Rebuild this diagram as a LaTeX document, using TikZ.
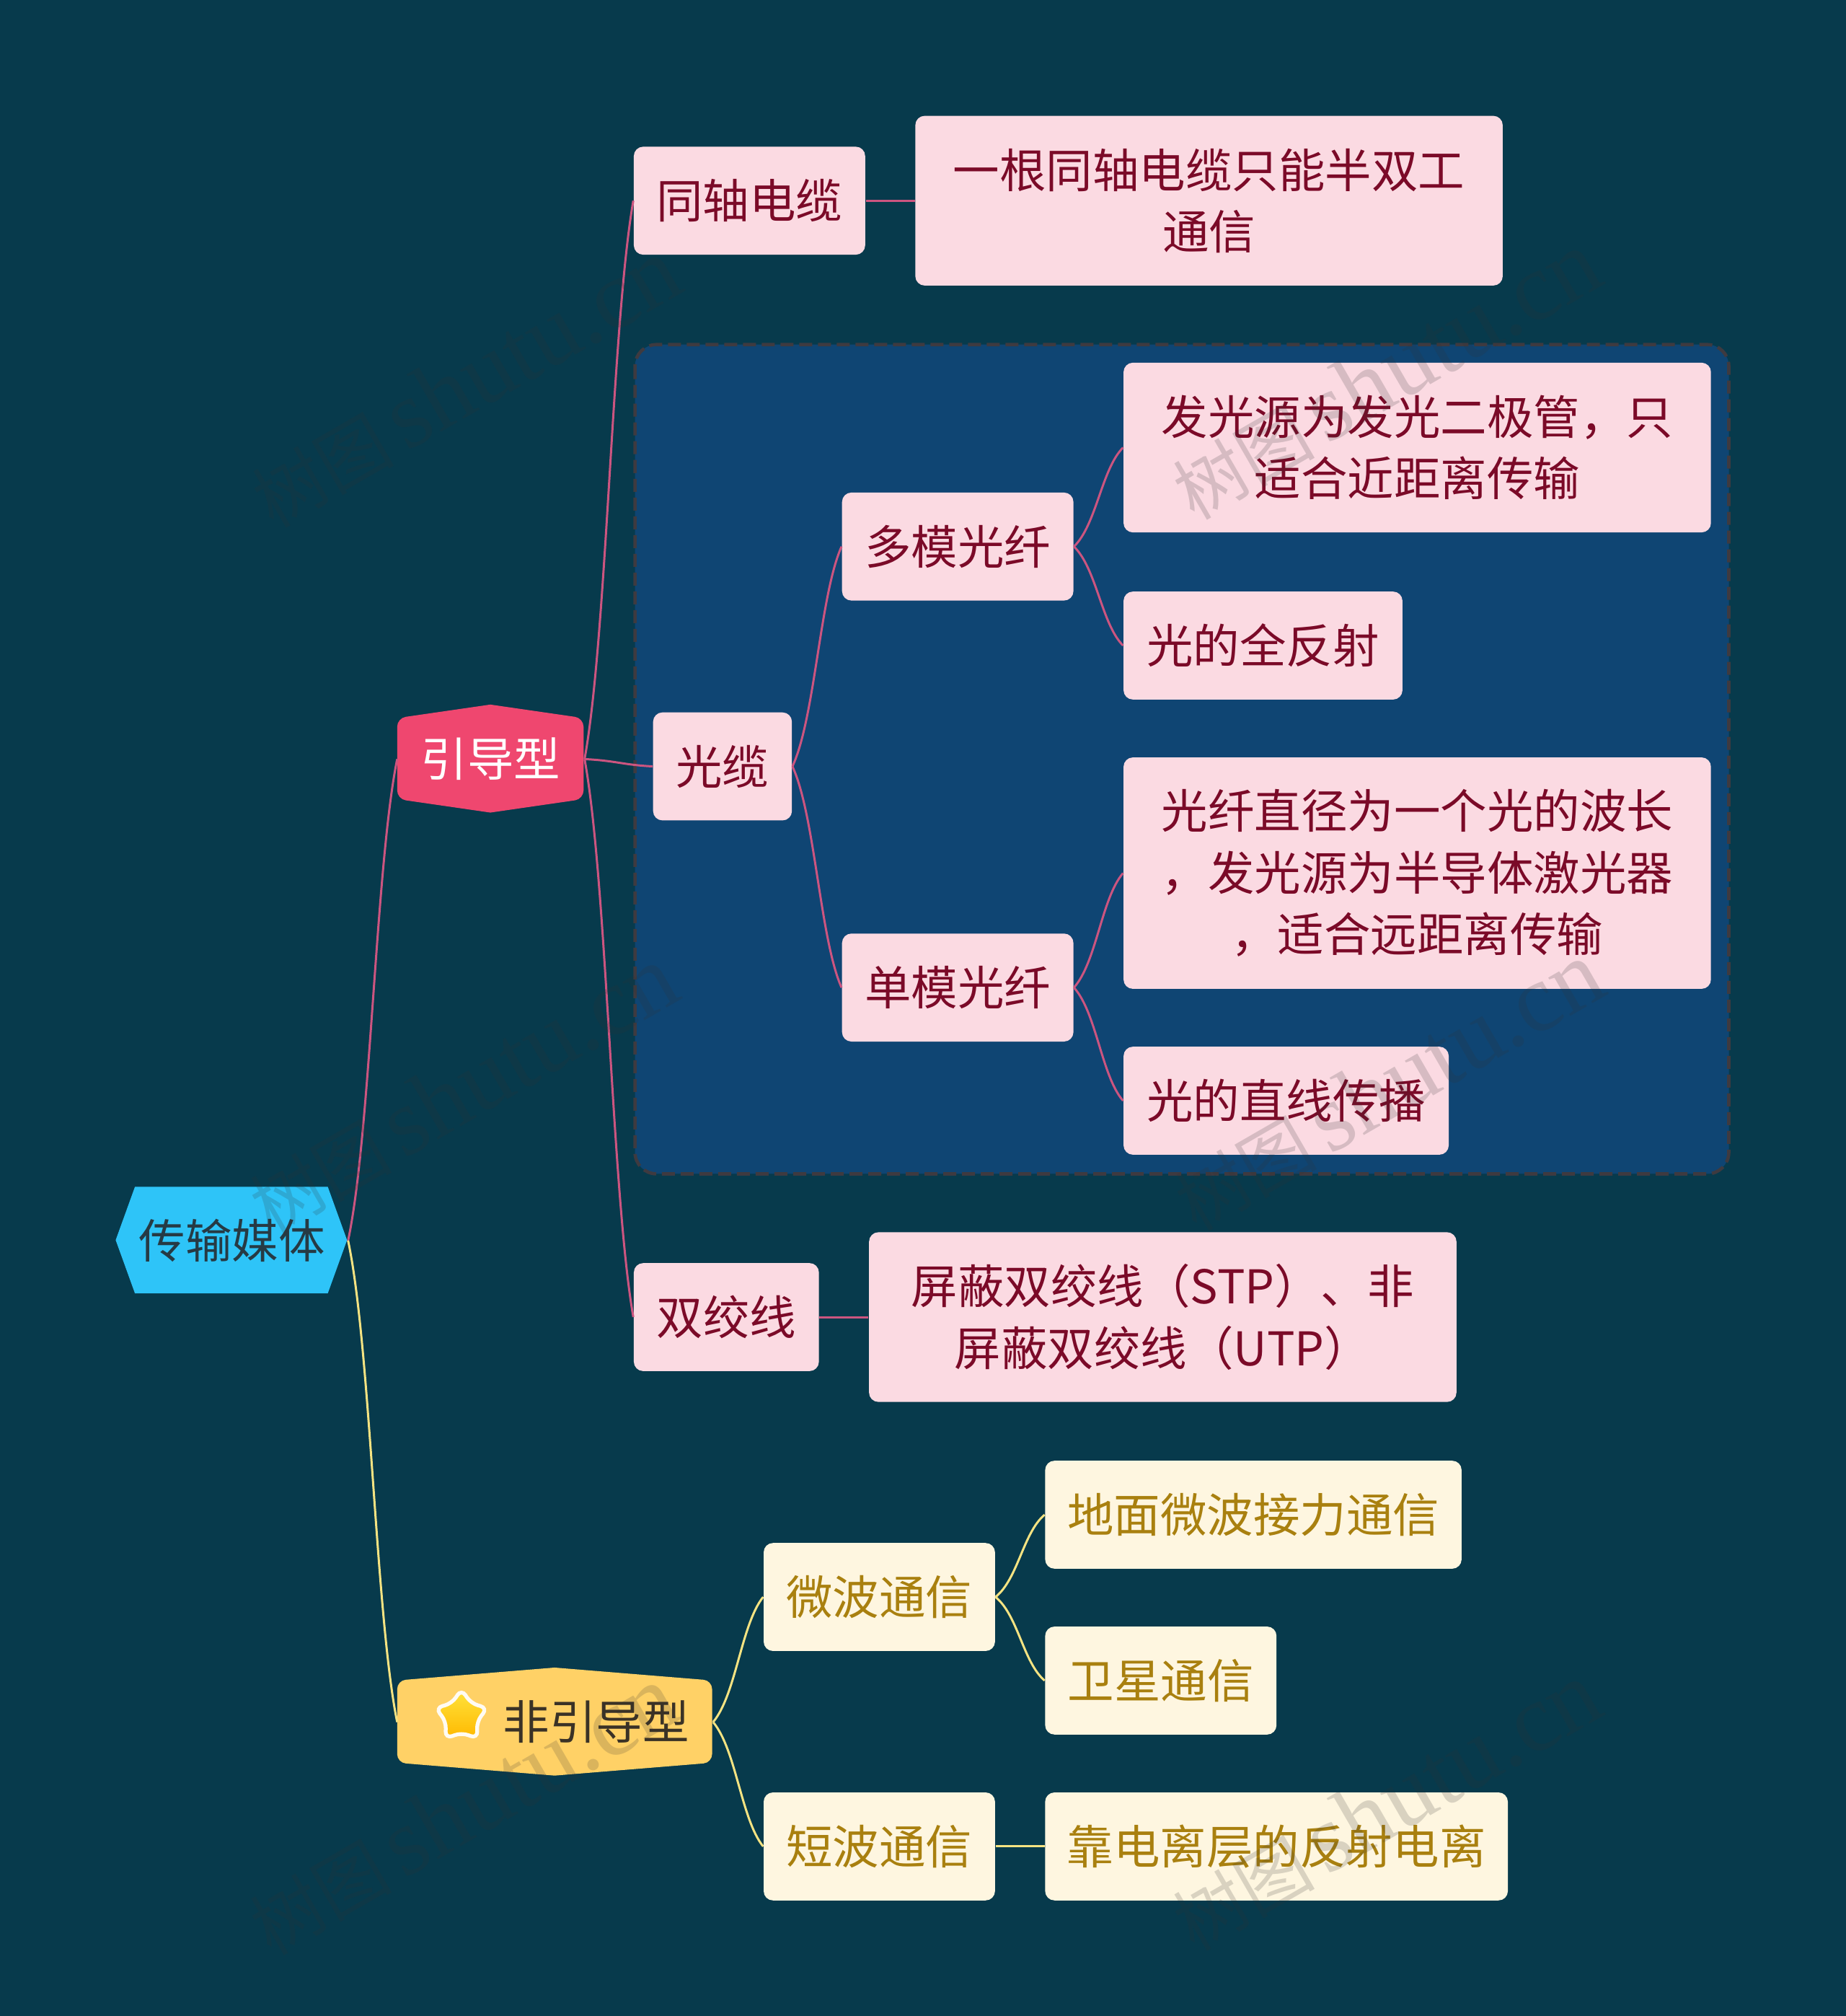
\documentclass[tikz,border=0pt]{standalone}
\usepackage{fontspec}
\setmainfont{Noto Sans CJK SC}
\newfontfamily\stampfont{Liberation Serif}
\usetikzlibrary{calc,shapes.geometric}
\definecolor{pagebg}{HTML}{073A4C}
\definecolor{groupbg}{HTML}{0F4573}
\definecolor{groupline}{HTML}{3E3A40}
\definecolor{rootfill}{HTML}{2EC4F8}
\definecolor{rootink}{HTML}{263A44}
\definecolor{guidefill}{HTML}{EF476F}
\definecolor{freefill}{HTML}{FFD166}
\definecolor{freeink}{HTML}{3A3226}
\definecolor{pinkfill}{HTML}{FBDAE2}
\definecolor{pinkink}{HTML}{7B0A28}
\definecolor{pinkline}{HTML}{CC5580}
\definecolor{creamfill}{HTML}{FEF6E0}
\definecolor{creamink}{HTML}{A9800F}
\definecolor{creamline}{HTML}{F5E382}
\definecolor{stampink}{HTML}{333333}
\newcommand{\pxu}{0.017827cm}
\tikzset{
  word/.style={inner sep=0pt, align=center, font=\fontsize{18.35}{24.3}\selectfont},
  pinkbox/.style 2 args={word, anchor=north west, fill=pinkfill, text=pinkink, rounded corners=.13cm,
    minimum width=#1*\pxu, minimum height=#2*\pxu},
  creambox/.style 2 args={word, anchor=north west, fill=creamfill, text=creamink, rounded corners=.13cm,
    minimum width=#1*\pxu, minimum height=#2*\pxu},
  hexword/.style 2 args={word, anchor=north west, minimum width=#1*\pxu, minimum height=#2*\pxu},
  link/.style={line width=.85pt, to path={let \p1=(\tikztostart), \p2=(\tikztotarget) in
    .. controls ({\x1+.46*(\x2-\x1)},{\y1+.22*(\y2-\y1)}) and ({\x1+.56*(\x2-\x1)},{\y1+.78*(\y2-\y1)}) .. (\tikztotarget)}},
  pinklink/.style={link, draw=pinkline},
  creamlink/.style={link, draw=creamline},
  stamp/.style={rotate=30, text=stampink, text opacity=.18, inner sep=0pt, font=\fontsize{28}{34}\selectfont}
}
\begin{document}
\begin{tikzpicture}[x=\pxu, y=-\pxu]
  \useasboundingbox (0,0) rectangle (1436,1568);
  \fill[pagebg] (0,0) rectangle (1436,1568);

  % 1. dashed panel behind the fibre branch
  \draw[fill=groupbg, draw=groupline, line width=1.3pt, dash pattern=on .18cm off .08cm, rounded corners=.3cm]
    (494,268) rectangle (1345,913);

  % 2. hexagons, filled before their words
  \fill[rootfill] (90,964.5) -- (105,923) -- (255,923) -- (270,964.5) -- (255,1006) -- (105,1006) -- cycle;
  \fill[guidefill] (381.5,548) [rounded corners=.12cm] -- (454,558.5) -- (454,621.5) [sharp corners] -- (381.5,632)
    [rounded corners=.12cm] -- (309,621.5) -- (309,558.5) [sharp corners] -- cycle;
  \fill[freefill] (431.5,1297) [rounded corners=.12cm] -- (554,1307) -- (554,1371) [sharp corners] -- (431.5,1381)
    [rounded corners=.12cm] -- (309,1371) -- (309,1307) [sharp corners] -- cycle;

  % 3. words on the hexagons
  \node[hexword={180}{84}, text=rootink] (root) at (90,922.5) {传输媒体};
  \node[hexword={145}{84}, text=white] (guided) at (309,548) {引导型};
  \node[hexword={245}{84}, text=freeink] (unguided) at (309,1297) {\hspace*{1.14cm}非引导型};
  \node[star, star points=5, star point ratio=1.7, minimum size=.76cm, inner sep=0pt, rounded corners=.1cm,
    draw=white!92!freefill, line width=1.5pt, top color=freefill!60!yellow, bottom color=orange!55!yellow] (staricon) at (359,1335) {};

  % 4. guided branch
  \node[pinkbox={180}{84}] (coax) at (492.7,113.7) {同轴电缆};
  \node[pinkbox={457}{132}] (coaxnote) at (711.7,89.7) {一根同轴电缆只能半双工\\通信};
  \node[pinkbox={108}{84}] (fibre) at (507.7,553.7) {光缆};
  \node[pinkbox={180}{84}] (multi) at (654.7,382.7) {多模光纤};
  \node[pinkbox={457}{132}] (multinote) at (873.7,281.7) {发光源为发光二极管，只\\适合近距离传输};
  \node[pinkbox={217}{84}] (multiray) at (873.7,459.7) {光的全反射};
  \node[pinkbox={180}{84}] (single) at (654.7,725.7) {单模光纤};
  \node[pinkbox={457}{180}] (singlenote) at (873.7,588.7) {光纤直径为一个光的波长\\，发光源为半导体激光器\\，适合远距离传输};
  \node[pinkbox={253}{84}] (singleray) at (873.7,813.7) {光的直线传播};
  \node[pinkbox={144}{84}] (twisted) at (492.7,982) {双绞线};
  \node[pinkbox={457}{132}] (twistednote) at (675.7,958) {屏蔽双绞线（STP）、非\\屏蔽双绞线（UTP）};

  % 5. unguided branch
  \node[creambox={180}{84}] (micro) at (593.7,1199.7) {微波通信};
  \node[creambox={324}{84}] (ground) at (812.7,1135.7) {地面微波接力通信};
  \node[creambox={180}{84}] (satellite) at (812.7,1264.7) {卫星通信};
  \node[creambox={180}{84}] (shortwave) at (593.7,1393.7) {短波通信};
  \node[creambox={360}{84}] (iono) at (812.7,1393.7) {靠电离层的反射电离};

  % 6. links
  \draw[pinklink] (root.east) to (guided.west);
  \draw[creamlink] (root.east) to (unguided.west);
  \foreach \from/\to in {guided/coax, guided/fibre, guided/twisted, fibre/multi, fibre/single,
      multi/multinote, multi/multiray, single/singlenote, single/singleray}
    \draw[pinklink] (\from.east) to (\to.west);
  \draw[line width=.85pt, pinkline] (coax.east) -- (coaxnote.west);
  \draw[line width=.85pt, pinkline] (twisted.east) -- (twistednote.west);
  \foreach \from/\to in {unguided/micro, unguided/shortwave, micro/ground, micro/satellite}
    \draw[creamlink] (\from.east) to (\to.west);
  \draw[line width=.85pt, creamline] (shortwave.east) -- (iono.west);

  % 7. faint site stamp over everything
  \foreach \i/\x/\y in {1/362/298, 2/360/848, 3/360/1408, 4/1078/292, 5/1080/845, 6/1078/1405}
    \node[stamp] (stamp\i) at (\x,\y) {树图\,{\stampfont\fontsize{38}{38}\selectfont shutu.cn}};
\end{tikzpicture}
\end{document}
